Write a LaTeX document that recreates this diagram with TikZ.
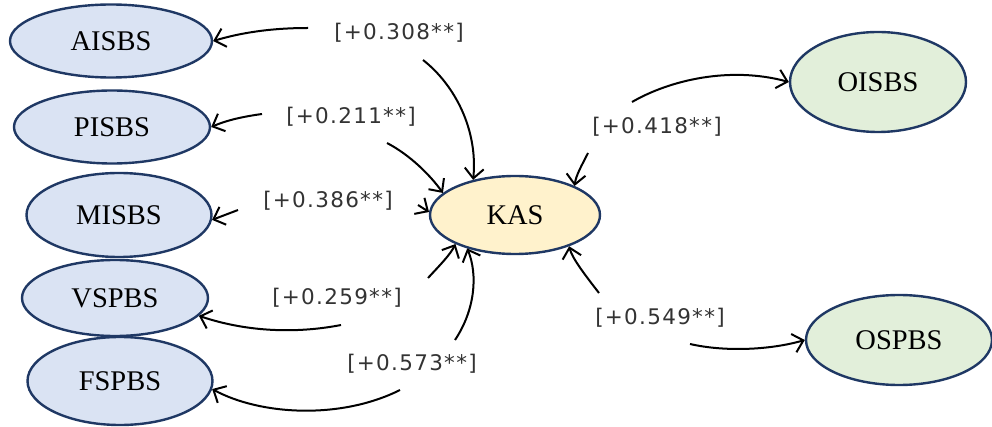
\documentclass[tikz,border=0pt]{standalone}
\usepackage{fontspec}
\setmainfont{Liberation Serif}
\newfontfamily\lblfont[LetterSpace=6]{DejaVu Sans}
\usetikzlibrary{shapes.geometric,arrows.meta}
\definecolor{navy}{HTML}{1F3864}
\definecolor{bluefill}{HTML}{DAE3F3}
\definecolor{yellowfill}{HTML}{FFF2CC}
\definecolor{greenfill}{HTML}{E2EFDA}
\definecolor{lblgray}{HTML}{333333}
\tikzset{
  var/.style={ellipse, draw=navy, line width=2.4pt, inner sep=0pt,
    font=\fontsize{28.5}{30}\selectfont},
  bluevar/.style={var, fill=bluefill},
  coef/.style={font=\lblfont\fontsize{21.5}{24}\selectfont, text=lblgray, inner sep=2pt},
  arr/.style={-{Straight Barb[length=10pt,width=19pt,line width=2pt]}, line width=2pt, black},
}
\begin{document}
\begin{tikzpicture}[x=1pt,y=-1pt]
\useasboundingbox (0,0) rectangle (992,427);
% nodes
\node[bluevar, minimum width=202pt, minimum height=73pt] (AISBS) at (111,41) {AISBS};
\node[bluevar, minimum width=196pt, minimum height=73pt] (PISBS) at (112,127) {PISBS};
\node[bluevar, minimum width=185pt, minimum height=84pt] (MISBS) at (119,215) {MISBS};
\node[bluevar, minimum width=186pt, minimum height=76pt] (VSPBS) at (115,298) {VSPBS};
\node[bluevar, minimum width=185pt, minimum height=88pt] (FSPBS) at (120,381) {FSPBS};
\node[var, fill=yellowfill, minimum width=170pt, minimum height=78pt] (KAS) at (515,215) {KAS};
\node[var, fill=greenfill, minimum width=176pt, minimum height=100pt] (OISBS) at (878,82) {OISBS};
\node[var, fill=greenfill, minimum width=186pt, minimum height=90pt] (OSPBS) at (899,340) {OSPBS};
% coefficient labels
\node[coef] (l308) at (399,33) {[+0.308**]};
\node[coef] (l211) at (351,117) {[+0.211**]};
\node[coef] (l386) at (328,201) {[+0.386**]};
\node[coef] (l259) at (337,298) {[+0.259**]};
\node[coef] (l573) at (412,364) {[+0.573**]};
\node[coef] (l418) at (657,127) {[+0.418**]};
\node[coef] (l549) at (660,318) {[+0.549**]};
% connector start points near the labels
\coordinate (c308a) at (308,28);
\coordinate (c308b) at (423,60);
\coordinate (c211a) at (262,114);
\coordinate (c211b) at (387,143);
\coordinate (c386a) at (238,210);
\coordinate (c386b) at (418,205);
\coordinate (c259a) at (341,325);
\coordinate (c259b) at (428,278);
\coordinate (c573a) at (400,390);
\coordinate (c573b) at (455,340);
\coordinate (c418a) at (632,102);
\coordinate (c418b) at (588,153);
\coordinate (c549a) at (599,293);
\coordinate (c549b) at (690,344);
% connectors
\draw[arr] (c308a) .. controls (270,28) and (240,33) .. (AISBS.east);
\draw[arr] (c308b) .. controls (455,85) and (478,130) .. (KAS.140);
\draw[arr] (c211a) .. controls (240,117) and (225,121) .. (PISBS.east);
\draw[arr] (c211b) .. controls (410,155) and (430,175) .. (KAS.163);
\draw[arr] (c386a) -- (MISBS.-3);
\draw[arr] (c386b) -- (KAS.178);
\draw[arr] (c259a) .. controls (300,333) and (250,333) .. (VSPBS.-12);
\draw[arr] (c259b) .. controls (440,265) and (450,255) .. (KAS.206);
\draw[arr] (c573a) .. controls (340,420) and (260,415) .. (FSPBS.-5);
\draw[arr] (c573b) .. controls (475,310) and (478,275) .. (KAS.215);
\draw[arr] (c418a) .. controls (670,80) and (730,66) .. (OISBS.west);
\draw[arr] (c418b) .. controls (582,165) and (576,175) .. (KAS.26);
\draw[arr] (c549a) .. controls (585,275) and (572,258) .. (KAS.-30);
\draw[arr] (c549b) .. controls (725,352) and (770,350) .. (OSPBS.west);
\end{tikzpicture}
\end{document}
